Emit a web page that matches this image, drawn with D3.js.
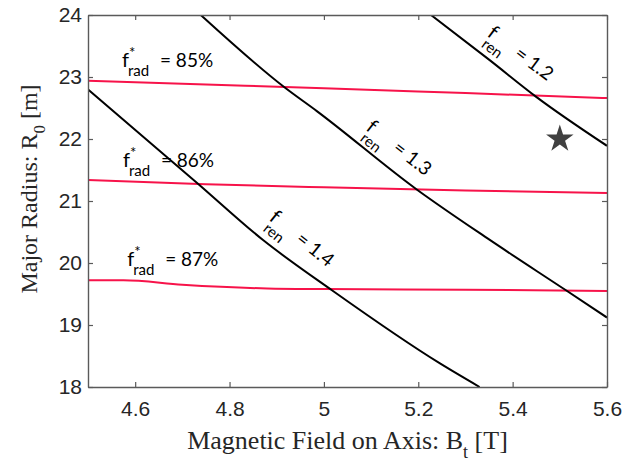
<!DOCTYPE html>
<html>
<head>
<meta charset="utf-8">
<script src="https://cdn.jsdelivr.net/npm/d3@7"></script>
<style>
  body { margin: 0; background: #fff; }
  svg { display: block; }
</style>
</head>
<body>
<div id="chart"></div>
<script>
// datos
const xTicks = [4.6, 4.8, 5, 5.2, 5.4, 5.6];
const yTicks = [18, 19, 20, 21, 22, 23, 24];

// curvas f_ren (negras)
const ren12B = [5.227, 5.35, 5.45, 5.6];
const ren12R = [24, 23.28, 22.68, 21.89];
const ren13B = [4.739, 4.917, 4.985, 5.196, 5.35, 5.513, 5.6];
const ren13R = [24, 22.83, 22.45, 21.19, 20.38, 19.56, 19.12];
const ren14B = [4.5, 4.73, 4.871, 5.017, 5.246, 5.33];
const ren14R = [22.8, 21.3, 20.37, 19.56, 18.38, 18.0];

// curvas f*_rad (rojas)
const rad85B = [4.5, 4.75, 5.0, 5.3, 5.6];
const rad85R = [22.94, 22.88, 22.82, 22.74, 22.66];
const rad86B = [4.5, 4.75, 5.0, 5.3, 5.6];
const rad86R = [21.34, 21.27, 21.22, 21.17, 21.13];
const rad87B = [4.5, 4.575, 4.7, 4.88, 5.0, 5.3, 5.6];
const rad87R = [19.72, 19.72, 19.65, 19.59, 19.58, 19.57, 19.55];

const renLabels = ["1.2", "1.3", "1.4"];
const radLabels = ["85%", "86%", "87%"];

// punto de diseño (estrella)
const starB = 5.5;
const starR = 22;

const width = 637;
const height = 462;
const margin = { top: 15, bottom: 75, left: 88, right: 30 };
const innerW = width - margin.left - margin.right;
const innerH = height - margin.top - margin.bottom;

const svg = d3.select("div#chart").append("svg")
  .attr("width", width)
  .attr("height", height);

const x = d3.scaleLinear().domain([4.5, 5.6]).range([0, innerW]);
const y = d3.scaleLinear().domain([18, 24]).range([innerH, 0]);

const g = svg.append("g")
  .attr("transform", `translate(${margin.left}, ${margin.top})`);

g.append("clipPath").attr("id", "clip")
  .append("rect").attr("width", innerW).attr("height", innerH);

const zip = (bs, rs) => bs.map((b, i) => ({ b: b, r: rs[i] }));

const line = d3.line()
  .x(d => x(d.b))
  .y(d => y(d.r))
  .curve(d3.curveMonotoneX);

const plot = g.append("g").attr("clip-path", "url(#clip)");

const redColor = "#f7134a";
[[rad85B, rad85R], [rad86B, rad86R], [rad87B, rad87R]].forEach(([bs, rs]) => {
  plot.append("path")
    .datum(zip(bs, rs))
    .attr("d", line)
    .attr("fill", "none")
    .attr("stroke", redColor)
    .attr("stroke-width", 2);
});

[[ren12B, ren12R], [ren13B, ren13R], [ren14B, ren14R]].forEach(([bs, rs]) => {
  plot.append("path")
    .datum(zip(bs, rs))
    .attr("d", line)
    .attr("fill", "none")
    .attr("stroke", "#000")
    .attr("stroke-width", 2);
});

// estrella
g.append("path")
  .attr("d", d3.symbol().type(d3.symbolStar).size(235)())
  .attr("transform", `translate(${x(starB)}, ${y(starR)})`)
  .attr("fill", "#404040");

// ejes
const axisColor = "#5a5a5a";
const styleAxis = (sel, labels) => {
  sel.select(".domain").attr("stroke", axisColor).attr("stroke-width", 1.4);
  sel.selectAll(".tick line").attr("stroke", axisColor).attr("stroke-width", 1.2);
  sel.selectAll(".tick text")
    .attr("fill", "#262626")
    .style("font-family", "'Liberation Sans', Arial, sans-serif")
    .style("font-size", "21px");
  if (!labels) sel.selectAll(".tick text").remove();
};

g.append("g")
  .attr("transform", `translate(0, ${innerH})`)
  .call(d3.axisBottom(x).tickValues(xTicks).tickSize(-5).tickSizeOuter(0).tickPadding(14).tickFormat(d => d))
  .call(s => styleAxis(s, true));

g.append("g")
  .call(d3.axisTop(x).tickValues(xTicks).tickSize(-5).tickSizeOuter(0))
  .call(s => styleAxis(s, false));

g.append("g")
  .call(d3.axisLeft(y).tickValues(yTicks).tickSize(-5).tickSizeOuter(0).tickPadding(6).tickFormat(d => d))
  .call(s => styleAxis(s, true));

g.append("g")
  .attr("transform", `translate(${innerW}, 0)`)
  .call(d3.axisRight(y).tickValues(yTicks).tickSize(-5).tickSizeOuter(0))
  .call(s => styleAxis(s, false));

// titulos de ejes
const serif = "'Liberation Serif', 'Times New Roman', serif";
const xTitle = svg.append("text")
  .attr("x", margin.left + innerW / 2)
  .attr("y", 449)
  .attr("text-anchor", "middle")
  .attr("fill", "#262626")
  .style("font-family", serif)
  .style("font-size", "26px");
xTitle.append("tspan").text("Magnetic Field on Axis: B");
xTitle.append("tspan").attr("dy", 9).style("font-size", "18px").text("t");
xTitle.append("tspan").attr("dy", -9).text(" [T]");

const yTitle = svg.append("text")
  .attr("transform", `translate(37, 189) rotate(-90)`)
  .attr("text-anchor", "middle")
  .attr("fill", "#262626")
  .style("font-family", serif)
  .style("font-size", "24px");
yTitle.append("tspan").text("Major Radius: R");
yTitle.append("tspan").attr("dy", 8).style("font-size", "17px").text("0");
yTitle.append("tspan").attr("dy", -8).text(" [m]");

// etiquetas f*_rad
const labelFont = "Lato, 'Open Sans', sans-serif";
const radPos = [[4.572, 23.16], [4.574, 21.55], [4.583, 19.95]];
radLabels.forEach((t, i) => {
  const lg = g.append("g")
    .attr("transform", `translate(${x(radPos[i][0])}, ${y(radPos[i][1])})`)
    .style("font-family", labelFont)
    .attr("fill", "#000");
  lg.append("text").attr("x", 0).attr("y", 0).style("font-size", "20px").text("f");
  lg.append("text").attr("x", 7).attr("y", -9).style("font-size", "15px").text("*");
  lg.append("text").attr("x", 6).attr("y", 9).style("font-size", "15px").text("rad");
  lg.append("text").attr("x", 38).attr("y", 0).style("font-size", "19px").text("= " + t);
});

// etiquetas f_ren (rotadas)
const renPos = [[5.344, 23.67, 37], [5.087, 22.155, 38], [4.882, 20.7, 39]];
renLabels.forEach((t, i) => {
  const lg = g.append("g")
    .attr("transform", `translate(${x(renPos[i][0])}, ${y(renPos[i][1])}) rotate(${renPos[i][2]})`)
    .style("font-family", labelFont)
    .attr("fill", "#000");
  lg.append("text").attr("x", 0).attr("y", 0).style("font-size", "20px").text("f");
  lg.append("text").attr("x", 2).attr("y", 12).style("font-size", "15px").text("ren");
  lg.append("text").attr("x", 34).attr("y", 0).style("font-size", "19px").text("= " + t);
});
</script>
</body>
</html>
